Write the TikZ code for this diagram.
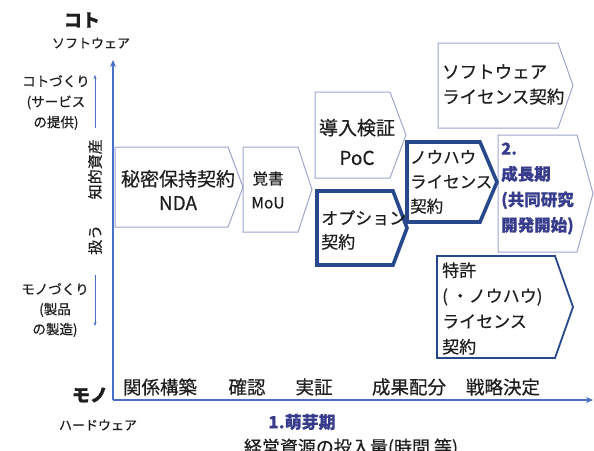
\documentclass[tikz,border=0pt]{standalone}
\usepackage{fontspec}
\setmainfont{Noto Sans CJK JP}[UprightFeatures={FakeBold=0.4}, BoldFeatures={FakeBold=0.6}]
\usetikzlibrary{arrows.meta}
\definecolor{thinb}{RGB}{158,166,208}
\definecolor{navy}{RGB}{40,72,140}
\definecolor{axisc}{RGB}{72,112,200}
\definecolor{txtc}{RGB}{30,30,30}
\definecolor{stagec}{RGB}{55,60,140}
\newcommand{\pbox}[6][thinbox]{\draw[#1] (#2,#3) -- (#4,#3) -- (#6,{(#3+#5)/2}) -- (#4,#5) -- (#2,#5) -- cycle;}
\newcommand{\fs}[2]{\fontsize{#1}{#2}\selectfont}
\tikzset{
  thinbox/.style={draw=thinb, line width=1pt, line join=miter},
  thickbox/.style={draw=navy, line width=3.6pt, line join=miter},
  midbox/.style={draw=navy, line width=1.8pt, line join=miter},
  lbl/.style={inner sep=0pt, text=txtc},
  boxtxt/.style={lbl, align=left, anchor=west},
  ctxt/.style={lbl, align=center},
  axisline/.style={draw=axisc, line width=1.6pt},
  smallarrow/.style={draw=axisc, line width=0.8pt, -{Stealth[length=4pt,width=3pt]}},
}
\begin{document}
\begin{tikzpicture}[x=1pt,y=-1pt]
\useasboundingbox (0,0) rectangle (594,450);
\clip (0,0) rectangle (594,450);
\fill[white] (0,0) rectangle (594,450);

% boxes (outlines)
\pbox{115}{147}{228}{227}{243}
\pbox{243}{147}{298}{232}{312}
\pbox{315}{92}{390}{178}{406}
\pbox{438}{43}{558}{128}{573}
\pbox{498}{135}{577}{252}{593}
\pbox[midbox]{437}{256}{555}{358}{573}
\pbox[thickbox]{317}{191}{393}{265}{407}
\pbox[thickbox]{407}{142}{480}{222}{497}

% box texts
\node[ctxt, font=\fs{19}{24}] (nda) at (178,190) {秘密保持契約\\NDA};
\node[ctxt, font=\fs{15.5}{24}] (mou) at (268,190) {覚書\\MoU};
\node[ctxt, font=\fs{19}{30}] (poc) at (357,142) {導入検証\\PoC};
\node[boxtxt, font=\fs{17}{24}] (opt) at (321,230) {オプション\\契約};
\node[boxtxt, font=\fs{16.5}{24.5}] (know) at (410,182) {ノウハウ\\ライセンス\\契約};
\node[boxtxt, font=\fs{17.5}{25}] (soft) at (442,84.5) {ソフトウェア\\ライセンス契約};
\node[boxtxt, font=\bfseries\fs{16.5}{25.5}, text=stagec] (grow) at (501,188.5) {2.\\成長期\\(共同研究\\開発開始)};
\node[boxtxt, font=\fs{17}{25.5}] (pat) at (442,308.5) {特許\\( ・ノウハウ)\\ライセンス\\契約};

% axes
\coordinate (origin) at (113,400);
\coordinate (ytop) at (113,60);
\coordinate (xend) at (593,400);
\draw[axisline, -{Stealth[length=7pt,width=6pt]}] (origin) -- (ytop);
\draw[axisline, -{Stealth[length=7pt,width=6pt]}] (origin) -- (xend);

% axis end labels
\node[lbl, font=\bfseries\fs{18}{20}] (koto) at (82,20) {コト};
\node[lbl, font=\fs{13}{15}] (softw) at (91,43) {ソフトウェア};
\node[lbl, font=\bfseries\fs{18}{20}] (mono) at (90,395) {モノ};
\node[lbl, font=\fs{13}{15}] (hardw) at (98,425) {ハードウェア};

% left side labels
\node[ctxt, font=\fs{13.5}{20.5}] (kotozukuri) at (56,102.5) {コトづくり\\(サービス\\の提供)};
\node[ctxt, font=\fs{13.5}{20}] (monozukuri) at (55,310) {モノづくり\\(製品\\の製造)};
\coordinate (ua) at (95,128);
\coordinate (ub) at (95,75);
\coordinate (da) at (95,275);
\coordinate (db) at (95,326);
\draw[smallarrow] (ua) -- (ub);
\draw[smallarrow] (da) -- (db);
\node[lbl, font=\fs{15}{17}, rotate=90] (chiteki) at (95,197) {扱う\hspace{1.7em}知的資産};

% x-axis step labels
\node[lbl, font=\fs{18.5}{20}] (s1) at (160,387) {関係構築};
\node[lbl, font=\fs{18.5}{20}] (s2) at (247,387) {確認};
\node[lbl, font=\fs{18.5}{20}] (s3) at (314,387) {実証};
\node[lbl, font=\fs{18.5}{20}] (s4) at (409,387) {成果配分};
\node[lbl, font=\fs{18.5}{20}] (s5) at (503,387) {戦略決定};

% bottom labels
\node[lbl, font=\bfseries\fs{17}{20}, text=stagec] (sprout) at (302,422) {1.萌芽期};
\node[lbl, font=\fs{18}{20}] (resource) at (351,448) {経営資源の投入量(時間 等)};
\end{tikzpicture}
\end{document}
